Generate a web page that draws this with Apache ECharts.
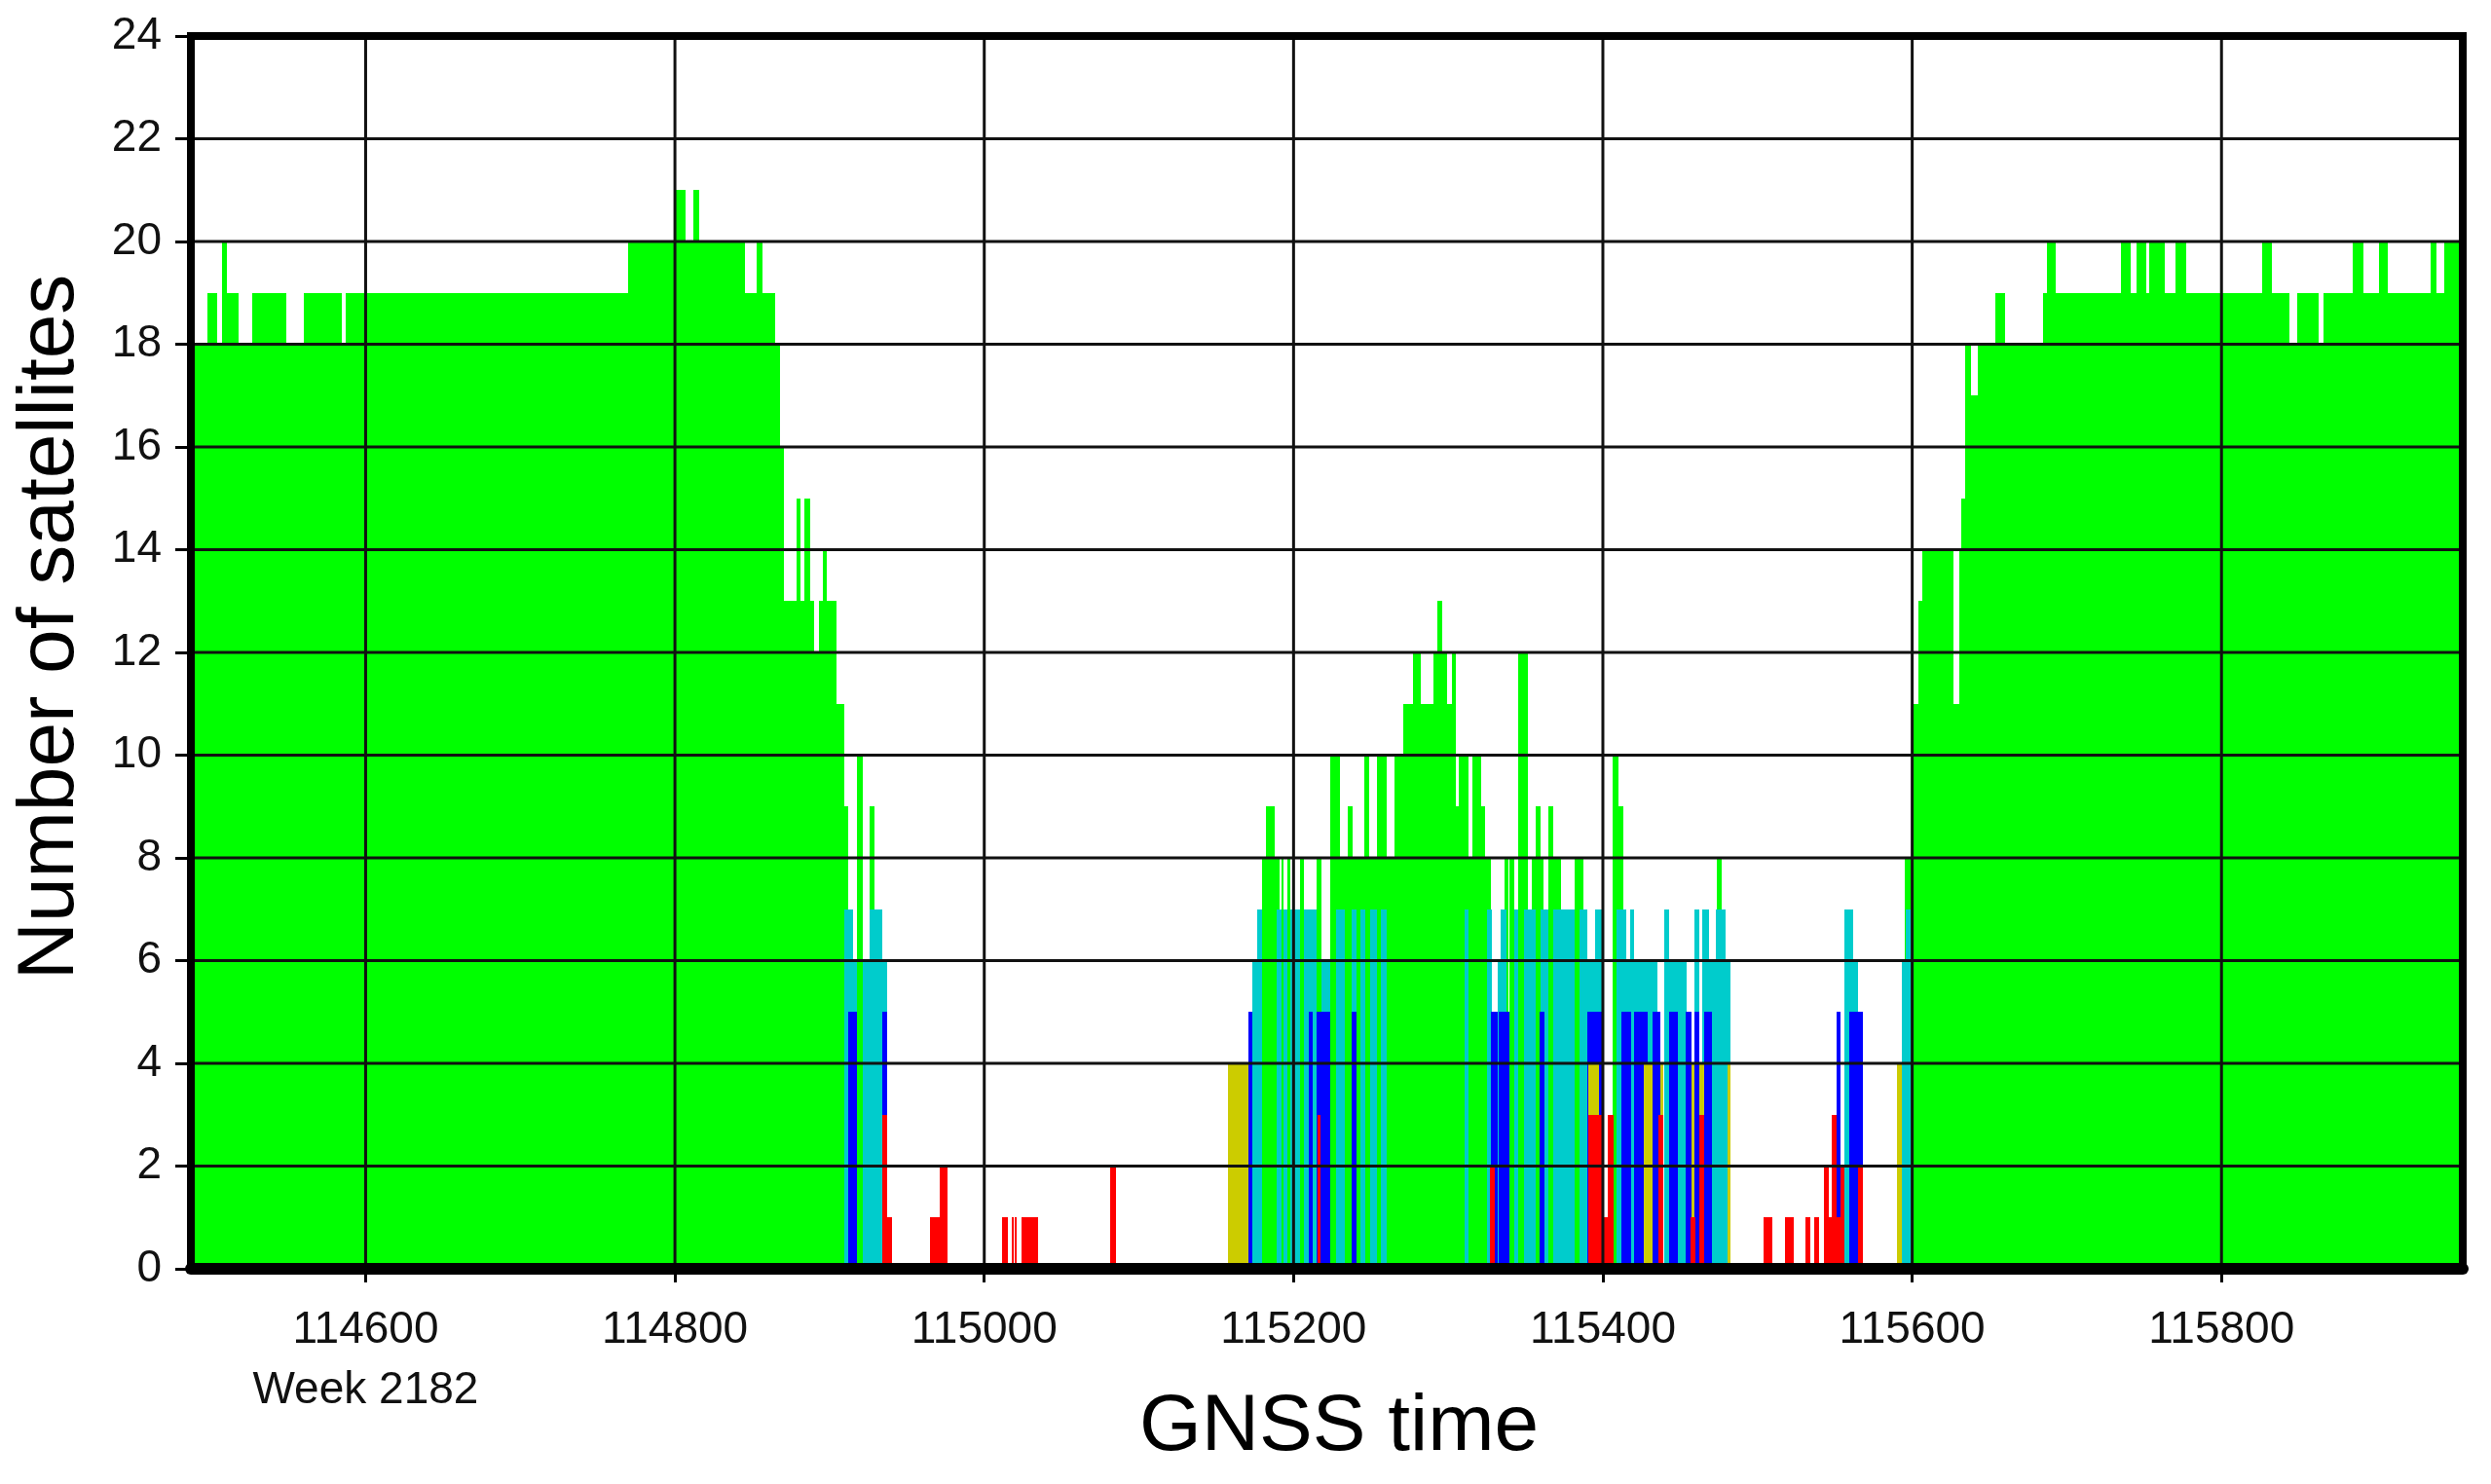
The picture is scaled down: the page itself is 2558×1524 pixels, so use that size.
<!DOCTYPE html>
<html>
<head>
<meta charset="utf-8">
<script src="https://cdn.jsdelivr.net/npm/echarts@6/dist/echarts.min.js"></script>
<style>
  html, body { margin: 0; padding: 0; background: #fff; }
  #chart { width: 2558px; height: 1524px; }
</style>
</head>
<body>
<div id="chart"></div>
<script>
// axis range and ticks (GNSS seconds of week)
const xMin = 114487
const xMax = 115956
const xTicks = [114600, 114800, 115000, 115200, 115400, 115600, 115800]
const yTicks = [2, 4, 6, 8, 10, 12, 14, 16, 18, 20, 22]
const weekLabel = "Week 2182"
const xTitle = "GNSS time"
const yTitle = "Number of satellites"

// runs of epochs: [start, end, number of satellites]
const greenRuns = [
  [114487, 114498, 18], [114498, 114504, 19], [114504, 114507, 18], [114507, 114510.5, 20],
  [114510.5, 114518, 19], [114518, 114526.4, 18], [114526.4, 114548.8, 19], [114548.8, 114560, 18],
  [114560, 114584.6, 19], [114584.6, 114587.4, 18], [114587.4, 114769.8, 19], [114769.8, 114800, 20],
  [114800, 114807, 21], [114807, 114811.7, 20], [114811.7, 114815.4, 21], [114815.4, 114845.3, 20],
  [114845.3, 114853.1, 19], [114853.1, 114856.8, 20], [114856.8, 114864.9, 19], [114864.9, 114868.2, 18],
  [114868.2, 114870.3, 16], [114870.3, 114878.7, 13], [114878.7, 114881.4, 15], [114881.4, 114884, 13],
  [114884, 114887.5, 15], [114887.5, 114890.2, 13], [114890.2, 114893, 12], [114893, 114895.5, 13],
  [114895.5, 114898.2, 14], [114898.2, 114904.3, 13], [114904.3, 114909.7, 11], [114909.7, 114912.2, 9],
  [114917.5, 114921.2, 10], [114925.9, 114929, 9],
  [115179.5, 115182, 8], [115182, 115187.8, 9], [115187.8, 115191, 8], [115192.5, 115193.7, 8],
  [115196.2, 115197.9, 8], [115204.2, 115206.7, 8], [115215.1, 115218.2, 8], [115223.5, 115229.8, 10],
  [115229.8, 115235, 8], [115235, 115238.2, 9], [115238.2, 115245.5, 8], [115245.5, 115249.1, 10],
  [115249.1, 115253.9, 8], [115253.9, 115260.2, 10], [115260.2, 115265.4, 8], [115265.4, 115270.7, 10],
  [115270.7, 115277, 11], [115277, 115282.2, 12], [115282.2, 115290.6, 11], [115290.6, 115293.1, 12],
  [115293.1, 115296.4, 13], [115296.4, 115299, 12], [115299, 115302.1, 11], [115302.1, 115305.2, 12],
  [115305.2, 115306.9, 9], [115306.9, 115313.2, 10], [115313.2, 115315.7, 8], [115315.7, 115321.6, 10],
  [115321.6, 115324.1, 9], [115324.1, 115327.3, 8], [115336.5, 115338.8, 8],
  [115339.6, 115342.7, 8], [115345.2, 115351.5, 12], [115354.2, 115356.3, 8], [115356.3, 115359.5, 9],
  [115359.5, 115361.6, 8], [115364.7, 115367.9, 9], [115367.9, 115373.1, 8], [115381.5, 115387.4, 8],
  [115406.1, 115409.9, 10], [115409.9, 115413, 9], [115473.5, 115477, 8],
  [115595.2, 115600, 8], [115600, 115604.2, 11], [115604.2, 115606.7, 13], [115606.7, 115626.7, 14],
  [115626.7, 115630.2, 11], [115630.2, 115631.9, 14], [115631.9, 115634.4, 15], [115634.4, 115638.2, 18],
  [115638.2, 115642.4, 17], [115642.4, 115653.9, 18], [115653.9, 115660.2, 19], [115660.2, 115684.6, 18],
  [115684.6, 115687.2, 19], [115687.2, 115693.1, 20], [115693.1, 115734.9, 19], [115734.9, 115741.4, 20],
  [115741.4, 115745.1, 19], [115745.1, 115751.2, 20], [115751.2, 115753.4, 19], [115753.4, 115763.1, 20],
  [115763.1, 115770.3, 19], [115770.3, 115777.2, 20], [115777.2, 115826, 19], [115826, 115832.5, 20],
  [115832.5, 115844, 19], [115844, 115848.8, 18], [115848.8, 115862.9, 19], [115862.9, 115865.7, 18],
  [115865.7, 115884.6, 19], [115884.6, 115891.5, 20], [115891.5, 115901.9, 19], [115901.9, 115907.8, 20],
  [115907.8, 115935.1, 19], [115935.1, 115938.8, 20], [115938.8, 115943.8, 19], [115943.8, 115955.1, 20],
  [115955.1, 115957, 19]
]
const cyanRuns = [
  [114909.7, 114915.4, 7], [114915.4, 114917.5, 6], [114921.2, 114925.9, 6], [114925.9, 114934.2, 7],
  [114934.2, 114937.4, 6],
  [115173.6, 115176.3, 6], [115176.3, 115179.5, 7], [115189, 115192.5, 7], [115193.7, 115196.2, 7],
  [115197.9, 115204.2, 7], [115206.7, 115215.1, 7], [115218.2, 115223.5, 6], [115227.7, 115232.9, 7],
  [115237.7, 115240.7, 7], [115243.4, 115246.1, 7], [115249.7, 115253.9, 7], [115256.6, 115260.2, 7],
  [115310.5, 115313.2, 7], [115325, 115328.5, 7], [115331.8, 115333.9, 6], [115333.9, 115337.5, 7],
  [115342.7, 115345.2, 7], [115349, 115356.3, 7], [115359.5, 115364.7, 7], [115367.9, 115381.5, 7],
  [115384.7, 115389.9, 7], [115389.9, 115395.2, 6], [115395.2, 115399.4, 7], [115408.8, 115415.1, 7],
  [115415.1, 115435, 6], [115417.8, 115420.4, 7], [115439.7, 115443, 7], [115443, 115453.9, 6],
  [115459.2, 115462.3, 7], [115464.4, 115468.6, 7], [115468.6, 115482.3, 6], [115472.8, 115479.1, 7],
  [115556.3, 115561.6, 7], [115561.6, 115565.2, 6], [115593.1, 115598.7, 6], [115596, 115598.7, 7]
]
const blueRuns = [
  [114912.2, 114917.5, 5], [114934.2, 114937.4, 5], [115171.1, 115173.6, 5], [115209.9, 115212.4, 5],
  [115215.1, 115223.5, 5], [115237.7, 115240.7, 5], [115327.3, 115331.8, 5], [115332.5, 115339.6, 5],
  [115359.1, 115362, 5], [115389.9, 115400.4, 5], [115412, 115418.3, 5], [115420.4, 115428.8, 5],
  [115431.9, 115437.1, 5], [115443, 115448.7, 5], [115453.5, 115457.1, 5], [115459.2, 115462.3, 5],
  [115465.5, 115470.7, 5], [115551.1, 115553.8, 5], [115559.5, 115567.9, 5]
]
const yellowRuns = [
  [115157.4, 115171.1, 4], [115390.6, 115397.3, 4], [115426.7, 115431.9, 4], [115437.1, 115439.2, 4],
  [115457.1, 115459.2, 4], [115462.3, 115465.5, 4], [115480.5, 115482.3, 4], [115589.9, 115593.1, 4]
]
const redRuns = [
  [114934.2, 114937.4, 3], [114937.4, 114940.1, 1], [114964.6, 114971, 1], [114971, 114976.2, 2],
  [115011.4, 115015.6, 1], [115017.7, 115019.1, 1], [115019.8, 115021.2, 1], [115024, 115034.5, 1],
  [115081.6, 115085.2, 2], [115215.5, 115217.5, 3], [115327, 115330, 2], [115390.6, 115399.4, 3],
  [115400.4, 115403.1, 1], [115403.1, 115406.7, 3], [115436.1, 115439.2, 3], [115456.5, 115459.8, 1],
  [115462.3, 115465.5, 3], [115503.9, 115509.8, 1], [115517.5, 115523.4, 1], [115531.2, 115534.3, 1],
  [115536.4, 115540, 1], [115542.7, 115556.3, 1], [115542.7, 115545.9, 2], [115548, 115551.1, 3],
  [115553.8, 115556.3, 2], [115565.2, 115567.9, 2]
]

const font = "Liberation Sans, Arial, sans-serif"
const chart = echarts.init(document.getElementById("chart"))

const runSeries = (name, runs, color, z) => {
  return {
    name: name,
    type: "custom",
    z: z,
    clip: true,
    silent: true,
    encode: { x: [0, 1], y: 2 },
    data: runs,
    renderItem: (params, api) => {
      const top = api.coord([api.value(0), api.value(2)])
      const bottom = api.coord([api.value(1), 0])
      // snap to whole pixels so neighbouring runs leave no seams
      const x0 = Math.round(top[0])
      const x1 = Math.max(Math.round(bottom[0]), x0 + 1)
      const y0 = Math.round(top[1])
      return {
        type: "rect",
        shape: { x: x0, y: y0, width: x1 - x0, height: Math.round(bottom[1]) - y0 },
        style: { fill: color }
      }
    }
  }
}

const gridSeries = (data, horizontal) => {
  return {
    type: "custom",
    z: 8,
    silent: true,
    encode: { x: 0, y: 1 },
    data: data,
    renderItem: (params, api) => {
      const v = horizontal ? api.value(1) : api.value(0)
      const a = horizontal ? api.coord([xMin, v]) : api.coord([v, 0])
      const b = horizontal ? api.coord([xMax, v]) : api.coord([v, 24])
      return {
        type: "line",
        shape: { x1: a[0], y1: a[1], x2: b[0], y2: b[1] },
        style: { stroke: "#111", lineWidth: 3 }
      }
    }
  }
}

const options = {
  animation: false,
  backgroundColor: "#fff",
  grid: {
    left: 196,
    right: 29,
    top: 37,
    bottom: 221,
    outerBoundsMode: "none",
    containLabel: false,
    show: true,
    z: 10,
    backgroundColor: "transparent",
    borderColor: "#000",
    borderWidth: 8
  },
  // axis titles placed as plain text
  graphic: [
    {
      type: "text",
      x: 1375,
      y: 1466,
      style: { text: xTitle, font: "82px " + font, fill: "#000", align: "center", verticalAlign: "middle" }
    },
    {
      type: "text",
      x: 52,
      y: 644,
      rotation: Math.PI / 2,
      style: { text: yTitle, font: "82px " + font, fill: "#000", align: "center", verticalAlign: "middle" }
    }
  ],
  xAxis: {
    type: "value",
    min: xMin,
    max: xMax,
    z: 10,
    axisLine: { show: true, lineStyle: { color: "#000", width: 12 } },
    axisTick: { show: true, customValues: xTicks, length: 14, lineStyle: { color: "#000", width: 3 } },
    axisLabel: {
      customValues: xTicks,
      margin: 32,
      fontFamily: font,
      fontSize: 46,
      lineHeight: 62,
      color: "#111",
      formatter: (v) => (v === xTicks[0] ? v + "\n" + weekLabel : "" + v)
    },
    splitLine: { show: false }
  },
  yAxis: {
    type: "value",
    min: 0,
    max: 24,
    interval: 2,
    z: 10,
    axisLine: { show: true, lineStyle: { color: "#000", width: 8 } },
    axisTick: { show: true, length: 16, lineStyle: { color: "#000", width: 3 } },
    axisLabel: { margin: 30, fontFamily: font, fontSize: 46, color: "#111" },
    splitLine: { show: false }
  },
  series: [
    runSeries("green", greenRuns, "#00ff00", 2),
    runSeries("cyan", cyanRuns, "#00cccc", 3),
    runSeries("blue", blueRuns, "#0000ff", 4),
    runSeries("yellow", yellowRuns, "#cccc00", 5),
    runSeries("red", redRuns, "#ff0000", 6),
    gridSeries(yTicks.map((v) => [xMin, v]), true),
    gridSeries(xTicks.map((v) => [v, 0]), false)
  ]
}
chart.setOption(options)
</script>
</body>
</html>
